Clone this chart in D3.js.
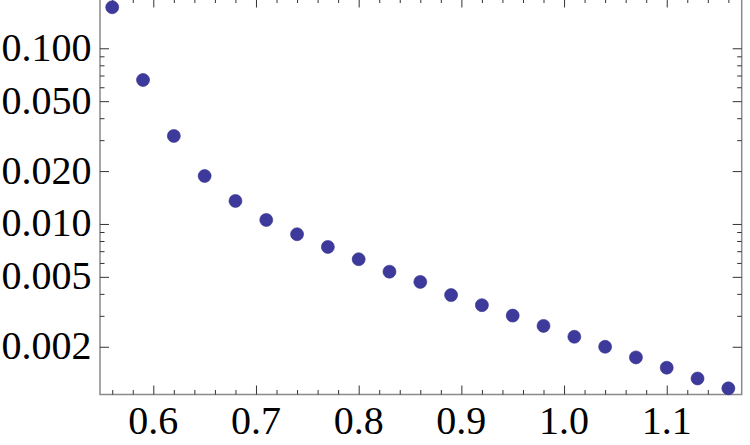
<!DOCTYPE html>
<html>
<head>
<meta charset="utf-8">
<script src="https://cdn.jsdelivr.net/npm/d3@7/dist/d3.min.js"></script>
<style>
  html, body { margin: 0; padding: 0; background: #fff; }
  svg { display: block; }
</style>
</head>
<body>
<svg id="chart" width="750" height="445"></svg>
<script>
// ---- data ----
const xValues = [0.56, 0.59, 0.62, 0.65, 0.68, 0.71, 0.74, 0.77, 0.80, 0.83, 0.86,
                 0.89, 0.92, 0.95, 0.98, 1.01, 1.04, 1.07, 1.10, 1.13, 1.16];
const yValues = [0.1712, 0.0660, 0.0317, 0.01875, 0.01352, 0.01054, 0.00874, 0.00740,
                 0.00630, 0.00535, 0.00468, 0.00394, 0.00345, 0.00301, 0.00263, 0.00228,
                 0.00200, 0.00174, 0.00152, 0.00132, 0.00116];
const xMajorTicks = [0.6, 0.7, 0.8, 0.9, 1.0, 1.1];
const xTickLabels = ["0.6", "0.7", "0.8", "0.9", "1.0", "1.1"];
const xMinorTicks = [0.56, 0.58, 0.62, 0.64, 0.66, 0.68, 0.72, 0.74, 0.76, 0.78,
                     0.82, 0.84, 0.86, 0.88, 0.92, 0.94, 0.96, 0.98, 1.02, 1.04,
                     1.06, 1.08, 1.12, 1.14, 1.16];
const yMajorTicks = [0.1, 0.05, 0.02, 0.01, 0.005, 0.002];
const yTickLabels = ["0.100", "0.050", "0.020", "0.010", "0.005", "0.002"];
const yMinorTicks = [0.003, 0.004, 0.006, 0.007, 0.008, 0.009,
                     0.03, 0.04, 0.06, 0.07, 0.08, 0.09];
const xDomain = [0.5481, 1.173];
const yDomain = [0.00107, 0.192];

// ---- layout ----
const pLeft = 100, pRight = 741.7, pTop = -1.5, pBottom = 394.5;
const svg = d3.select("#chart");

const x = d3.scaleLinear().domain(xDomain).range([pLeft, pRight]);
const y = d3.scaleLog().domain(yDomain).range([pBottom, pTop]);

const frameColor = "#8a8a8a";
const tickColor = "#333";
const majorLen = 9, minorLen = 4.5;
const font = "'Liberation Serif', 'Times New Roman', serif";

// frame
svg.append("rect")
  .attr("x", pLeft).attr("y", pTop)
  .attr("width", pRight - pLeft).attr("height", pBottom - pTop)
  .attr("fill", "none").attr("stroke", frameColor).attr("stroke-width", 1.5);

function styleAxis(g) {
  g.select(".domain").remove();
  g.selectAll(".tick line").attr("stroke", tickColor).attr("stroke-width", 1);
  g.selectAll("text").remove();
}
function addAxis(axisFn, scale, ticks, len, tx, ty) {
  svg.append("g").attr("transform", `translate(${tx},${ty})`)
    .call(axisFn(scale).tickValues(ticks).tickSizeInner(-len).tickSizeOuter(0))
    .call(styleAxis);
}
addAxis(d3.axisBottom, x, xMajorTicks, majorLen, 0, pBottom);
addAxis(d3.axisBottom, x, xMinorTicks, minorLen, 0, pBottom);
addAxis(d3.axisTop, x, xMajorTicks, majorLen, 0, pTop);
addAxis(d3.axisTop, x, xMinorTicks, minorLen, 0, pTop);
addAxis(d3.axisLeft, y, yMajorTicks, majorLen, pLeft, 0);
addAxis(d3.axisLeft, y, yMinorTicks, minorLen, pLeft, 0);
addAxis(d3.axisRight, y, yMajorTicks, majorLen, pRight, 0);
addAxis(d3.axisRight, y, yMinorTicks, minorLen, pRight, 0);

// tick labels
svg.append("g").selectAll("text").data(xMajorTicks).join("text")
  .attr("x", d => x(d)).attr("y", 434)
  .attr("text-anchor", "middle")
  .attr("font-family", font).attr("font-size", 40).attr("fill", "#000")
  .text((d, i) => xTickLabels[i]);

svg.append("g").selectAll("text").data(yMajorTicks).join("text")
  .attr("x", 91.5).attr("y", d => y(d) + 12.5)
  .attr("text-anchor", "end")
  .attr("font-family", font).attr("font-size", 40).attr("fill", "#000")
  .text((d, i) => yTickLabels[i]);

// points
svg.append("g").selectAll("circle").data(xValues.map((v, i) => [v, yValues[i]])).join("circle")
  .attr("cx", d => x(d[0])).attr("cy", d => y(d[1]))
  .attr("r", 6.5)
  .attr("fill", "#3d3a9c")
  .attr("stroke", "#33308a").attr("stroke-width", 0.6);
</script>
</body>
</html>
